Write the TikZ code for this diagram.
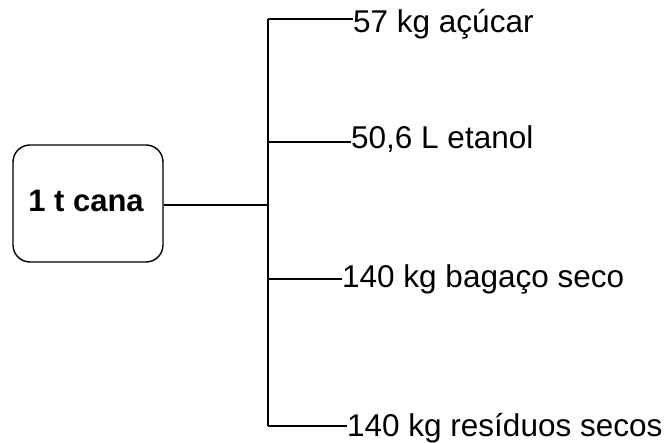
\documentclass[tikz,border=0pt]{standalone}
\usepackage{fontspec}
\setmainfont{Liberation Sans}
\begin{document}
\begin{tikzpicture}[x=1pt,y=-1pt,
  ln/.style={line width=1.4pt,black},
  lbl/.style={anchor=base west,inner sep=0pt,font=\fontsize{31.5}{36}\selectfont},
  srcbox/.style={draw,line width=1.4pt,rounded corners=17pt,minimum width=150pt,minimum height=117pt,inner sep=0pt}]
\useasboundingbox (0,0) rectangle (665,443);
\node[srcbox] (box) at (88,203.5) {};
\node[anchor=base,inner sep=0pt,font=\fontsize{31}{36}\selectfont\bfseries] (boxtxt) at (86,212) {1 t cana};
\coordinate (jm) at (268,205);
\coordinate (j1) at (268,19);
\coordinate (j2) at (268,142);
\coordinate (j3) at (268,279);
\coordinate (j4) at (268,426);
\node[lbl] (t1) at (353,33) {57 kg açúcar};
\node[lbl] (t2) at (351,149) {50,6 L etanol};
\node[lbl] (t3) at (342,288) {140 kg bagaço seco};
\node[lbl] (t4) at (347,437) {140 kg resíduos secos};
\draw[ln] (box.east |- jm) -- (jm);
\draw[ln] (j1) -- (j4);
\draw[ln] (j1) -- (j1 -| t1.west);
\draw[ln] (j2) -- (j2 -| t2.west);
\draw[ln] (j3) -- (j3 -| t3.west);
\draw[ln] (j4) -- (j4 -| t4.west);
\end{tikzpicture}
\end{document}
